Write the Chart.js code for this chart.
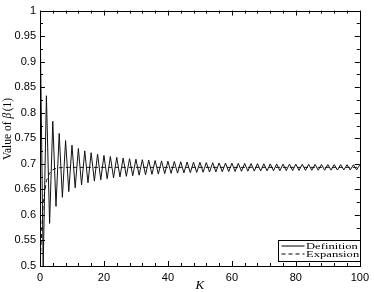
<!DOCTYPE html>
<html>
<head>
<meta charset="utf-8">
<script src="https://cdn.jsdelivr.net/npm/chart.js@4.4.0/dist/chart.umd.min.js"></script>
<style>
html, body { margin: 0; padding: 0; background: #fff; }
canvas { display: block; }
</style>
</head>
<body>
<canvas id="canvas" width="374" height="292"></canvas>
<script>
// partial sums, K = 0..100
var definitionValues = [
  1.0000, 0.5000, 0.8333, 0.5833, 0.7833, 0.6167, 0.7595, 0.6345, 0.7456, 0.6456,
  0.7365, 0.6532, 0.7301, 0.6587, 0.7254, 0.6629, 0.7217, 0.6661, 0.7188, 0.6688,
  0.7164, 0.6709, 0.7144, 0.6727, 0.7127, 0.6743, 0.7113, 0.6756, 0.7101, 0.6768,
  0.7090, 0.6778, 0.7081, 0.6787, 0.7072, 0.6795, 0.7065, 0.6802, 0.7058, 0.6808,
  0.7052, 0.6814, 0.7046, 0.6819, 0.7041, 0.6824, 0.7037, 0.6828, 0.7032, 0.6832,
  0.7029, 0.6836, 0.7025, 0.6840, 0.7022, 0.6843, 0.7018, 0.6846, 0.7015, 0.6849,
  0.7013, 0.6851, 0.7010, 0.6854, 0.7008, 0.6856, 0.7005, 0.6858, 0.7003, 0.6861,
  0.7001, 0.6863, 0.6999, 0.6864, 0.6998, 0.6866, 0.6996, 0.6868, 0.6994, 0.6869,
  0.6993, 0.6871, 0.6991, 0.6872, 0.6990, 0.6874, 0.6989, 0.6875, 0.6987, 0.6876,
  0.6986, 0.6877, 0.6985, 0.6879, 0.6984, 0.6880, 0.6983, 0.6881, 0.6982, 0.6882,
  0.6981
];
var expansionK = [0, 1, 2, 3, 4, 5, 6, 7, 8, 9, 10, 11, 12, 100];
var expansionValues = [0.5000, 0.6250, 0.6667, 0.6823, 0.6885, 0.6911, 0.6923, 0.6928, 0.6930, 0.6931, 0.6931, 0.6931, 0.6931, 0.6931];
var seriesNames = ["Definition", "Expansion"];
var xTickLabels = [0, 20, 40, 60, 80, 100];
var yTickLabels = [0.5, 0.55, 0.6, 0.65, 0.7, 0.75, 0.8, 0.85, 0.9, 0.95, 1];

var defPoints = definitionValues.map(function(v, i) { return {x: i, y: v}; });
var expPoints = expansionValues.map(function(v, i) { return {x: expansionK[i], y: v}; });

var boxPlugin = {
  id: 'boxPlugin',
  afterDraw: function(chart) {
    var c = chart.ctx, a = chart.chartArea;
    var xs = chart.scales.x, ys = chart.scales.y;
    c.save();
    c.strokeStyle = '#000';
    c.lineWidth = 1;
    c.strokeRect(Math.round(a.left) + 0.5, Math.round(a.top) + 0.5,
                 Math.round(a.right - a.left), Math.round(a.bottom - a.top));
    c.beginPath();
    for (var k = 0; k <= 100; k += 4) {
      var px = Math.round(xs.getPixelForValue(k)) + 0.5;
      var len = (k % 20 === 0) ? 5 : 3;
      c.moveTo(px, a.bottom); c.lineTo(px, a.bottom - len);
      c.moveTo(px, a.top); c.lineTo(px, a.top + len);
    }
    for (var j = 0; j <= 20; j++) {
      var v = 0.5 + j * 0.025;
      var py = Math.round(ys.getPixelForValue(v)) + 0.5;
      var l2 = (j % 2 === 0) ? 5 : 3;
      c.moveTo(a.left, py); c.lineTo(a.left + l2, py);
      c.moveTo(a.right, py); c.lineTo(a.right - l2, py);
    }
    c.stroke();

    // axis titles
    c.fillStyle = '#000';
    c.font = 'italic 13px "Liberation Serif"';
    c.textAlign = 'center';
    c.textBaseline = 'middle';
    c.fillText('K', (a.left + a.right) / 2, 286);

    c.save();
    c.translate(8, 129);
    c.rotate(-Math.PI / 2);
    c.textAlign = 'left';
    var t1 = 'Value of ', t2 = '\u03B2', t3 = '(1)';
    c.font = '11.5px "Liberation Serif"';
    var w1 = c.measureText(t1).width, w3 = c.measureText(t3).width;
    c.font = 'italic 11.5px "Liberation Serif"';
    var w2 = c.measureText(t2).width + 1.5;
    var x0 = -(w1 + w2 + w3) / 2;
    c.font = '11.5px "Liberation Serif"';
    c.fillText(t1, x0, 0);
    c.font = 'italic 11.5px "Liberation Serif"';
    c.fillText(t2, x0 + w1, 0);
    c.font = '11.5px "Liberation Serif"';
    c.fillText(t3, x0 + w1 + w2, 0);
    c.restore();

    // legend
    var bx = 278.5, by = 240.5, bw = Math.round(a.right) - 278, bh = 21;
    c.fillStyle = '#fff';
    c.fillRect(bx, by, bw, bh);
    c.strokeStyle = '#000';
    c.strokeRect(bx, by, bw, bh);
    c.font = '12px "Liberation Serif"';
    c.textAlign = 'left';
    c.textBaseline = 'middle';
    c.fillStyle = '#000';
    chart.data.datasets.forEach(function(ds, i) {
      var yy = by + 5.5 + i * 8;
      c.beginPath();
      c.setLineDash(ds.borderDash || []);
      c.lineWidth = 1;
      c.moveTo(bx + 3, yy); c.lineTo(bx + 26, yy);
      c.stroke();
      c.setLineDash([]);
      c.save();
      c.translate(bx + 27.5, yy + 0.5);
      c.scale(1.05, 0.72);
      c.fillText(ds.label, 0, 0);
      c.restore();
    });
    c.restore();
  }
};

var ctx = document.getElementById("canvas");
var chart = new Chart(ctx, {
  type: 'line',
  data: {
    datasets: [
      {
        label: seriesNames[0],
        data: defPoints,
        borderColor: '#111',
        borderWidth: 1,
        pointRadius: 0,
        tension: 0,
        fill: false
      },
      {
        label: seriesNames[1],
        data: expPoints,
        borderColor: '#111',
        borderWidth: 1,
        borderDash: [4, 3],
        pointRadius: 0,
        tension: 0,
        fill: false
      }
    ]
  },
  options: {
    responsive: false,
    animation: false,
    layout: { padding: { left: 0, top: 10, right: 12, bottom: 0 } },
    plugins: { legend: { display: false }, tooltip: { enabled: false } },
    scales: {
      x: {
        type: 'linear',
        min: 0, max: 100,
        grid: { display: false, drawTicks: false },
        border: { display: false },
        afterFit: function(s) { s.height = 26; },
        afterBuildTicks: function(s) { s.ticks = xTickLabels.map(function(v) { return {value: v}; }); },
        ticks: {
          color: '#000',
          padding: 5,
          maxRotation: 0,
          font: { family: '"Liberation Sans"', size: 11 }
        }
      },
      y: {
        type: 'linear',
        min: 0.5, max: 1,
        grid: { display: false, drawTicks: false },
        border: { display: false },
        afterFit: function(s) { s.width = 40; },
        afterBuildTicks: function(s) { s.ticks = yTickLabels.map(function(v) { return {value: v}; }); },
        ticks: {
          color: '#000',
          padding: 4,
          font: { family: '"Liberation Sans"', size: 11 },
          callback: function(v) { return String(Math.round(v * 100) / 100); }
        }
      }
    }
  },
  plugins: [boxPlugin]
});
</script>
</body>
</html>
